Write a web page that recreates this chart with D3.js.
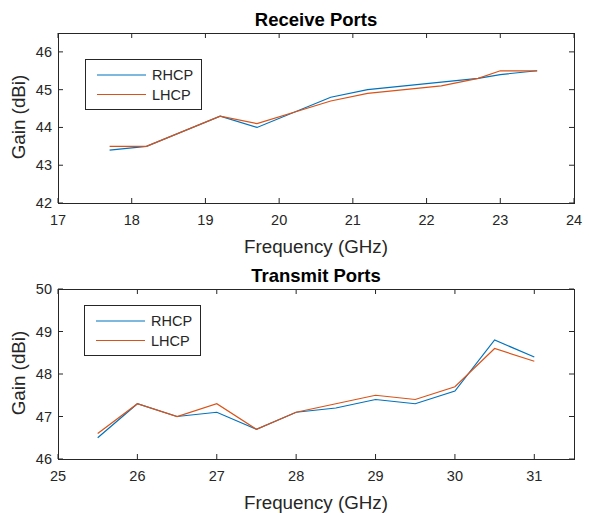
<!DOCTYPE html>
<html><head><meta charset="utf-8">
<script src="https://cdn.jsdelivr.net/npm/d3@7"></script>
<style>body{margin:0;background:#fff}svg{display:block}</style>
</head><body>
<svg id="c" width="589" height="513"></svg>
<script>
// Receive ports
const rxFreq = [17.7, 18.2, 19.2, 19.7, 20.7, 21.2, 22.2, 22.7, 23.0, 23.5];
const rxRHCP = [43.4, 43.5, 44.3, 44.0, 44.8, 45.0, 45.2, 45.3, 45.4, 45.5];
const rxLHCP = [43.5, 43.5, 44.3, 44.1, 44.7, 44.9, 45.1, 45.3, 45.5, 45.5];
const rxXTicks = [17, 18, 19, 20, 21, 22, 23, 24];
const rxYTicks = [42, 43, 44, 45, 46];
// Transmit ports
const txFreq = [25.5, 26, 26.5, 27, 27.5, 28, 28.5, 29, 29.5, 30, 30.5, 31];
const txRHCP = [46.5, 47.3, 47.0, 47.1, 46.7, 47.1, 47.2, 47.4, 47.3, 47.6, 48.8, 48.4];
const txLHCP = [46.6, 47.3, 47.0, 47.3, 46.7, 47.1, 47.3, 47.5, 47.4, 47.7, 48.6, 48.3];
const txXTicks = [25, 26, 27, 28, 29, 30, 31];
const txYTicks = [46, 47, 48, 49, 50];
const seriesNames = ["RHCP", "LHCP"];
const seriesColors = ["#0072BD", "#D95319"];

const svg = d3.select("#c");
const axisColor = "#262626";
const font = "'Liberation Sans', Arial, sans-serif";

function panel(cfg) {
  const {top, bottom, left, right, xDom, yDom, xTicks, yTicks, xs, ys, title, legend} = cfg;
  const x = d3.scaleLinear().domain(xDom).range([left, right]);
  const y = d3.scaleLinear().domain(yDom).range([bottom, top]);
  const g = svg.append("g");
  const tl = 5;
  xTicks.forEach(t => {
    g.append("line").attr("x1", x(t)).attr("x2", x(t)).attr("y1", bottom).attr("y2", bottom - tl).attr("stroke", axisColor);
    g.append("line").attr("x1", x(t)).attr("x2", x(t)).attr("y1", top).attr("y2", top + tl).attr("stroke", axisColor);
    g.append("text").attr("x", x(t)).attr("y", bottom + 22).attr("text-anchor", "middle")
      .attr("font-family", font).attr("font-size", 14.5).attr("fill", axisColor).text(t);
  });
  yTicks.forEach(t => {
    g.append("line").attr("y1", y(t)).attr("y2", y(t)).attr("x1", left).attr("x2", left + tl).attr("stroke", axisColor);
    g.append("line").attr("y1", y(t)).attr("y2", y(t)).attr("x1", right).attr("x2", right - tl).attr("stroke", axisColor);
    g.append("text").attr("x", left - 6).attr("y", y(t) + 5).attr("text-anchor", "end")
      .attr("font-family", font).attr("font-size", 14.5).attr("fill", axisColor).text(t);
  });
  const line = d3.line().x(d => x(d[0])).y(d => y(d[1]));
  ys.forEach((vals, i) => {
    g.append("path").datum(xs.map((f, j) => [f, vals[j]]))
      .attr("d", line).attr("fill", "none").attr("stroke", seriesColors[i]).attr("stroke-width", 1.2);
  });
  g.append("rect").attr("x", left + 0.5).attr("y", top + 0.5).attr("width", right - left).attr("height", bottom - top)
    .attr("fill", "none").attr("stroke", axisColor).attr("stroke-width", 1);
  g.append("text").attr("x", (left + right) / 2).attr("y", top - 7).attr("text-anchor", "middle")
    .attr("font-family", font).attr("font-size", 18.5).attr("font-weight", "bold").attr("fill", "#000").text(title);
  g.append("text").attr("x", (left + right) / 2).attr("y", bottom + 50).attr("text-anchor", "middle")
    .attr("font-family", font).attr("font-size", 18.8).attr("fill", axisColor).text("Frequency (GHz)");
  g.append("text").attr("transform", `translate(25,${(top + bottom) / 2 - 1}) rotate(-90)`).attr("text-anchor", "middle")
    .attr("font-family", font).attr("font-size", 18.8).attr("fill", axisColor).text("Gain (dBi)");
  const L = legend;
  g.append("rect").attr("x", L.x + 0.5).attr("y", L.y + 0.5).attr("width", 116).attr("height", 50)
    .attr("fill", "#fff").attr("stroke", axisColor).attr("stroke-width", 1);
  seriesNames.forEach((n, i) => {
    const cy = L.y + 16 + i * 19.5;
    g.append("line").attr("x1", L.x + 12).attr("x2", L.x + 61).attr("y1", cy).attr("y2", cy)
      .attr("stroke", seriesColors[i]).attr("stroke-width", 1.2);
    g.append("text").attr("x", L.x + 67).attr("y", cy + 5).attr("font-family", font).attr("font-size", 14.5)
      .attr("fill", axisColor).text(n);
  });
}

panel({top: 33, bottom: 203, left: 58, right: 574, xDom: [17, 24], yDom: [42, 46.5],
  xTicks: rxXTicks, yTicks: rxYTicks, xs: rxFreq, ys: [rxRHCP, rxLHCP], title: "Receive Ports",
  legend: {x: 85, y: 59}});
panel({top: 289, bottom: 459, left: 58, right: 574, xDom: [25, 31.5], yDom: [46, 50],
  xTicks: txXTicks, yTicks: txYTicks, xs: txFreq, ys: [txRHCP, txLHCP], title: "Transmit Ports",
  legend: {x: 84, y: 305}});
</script>
</body></html>
